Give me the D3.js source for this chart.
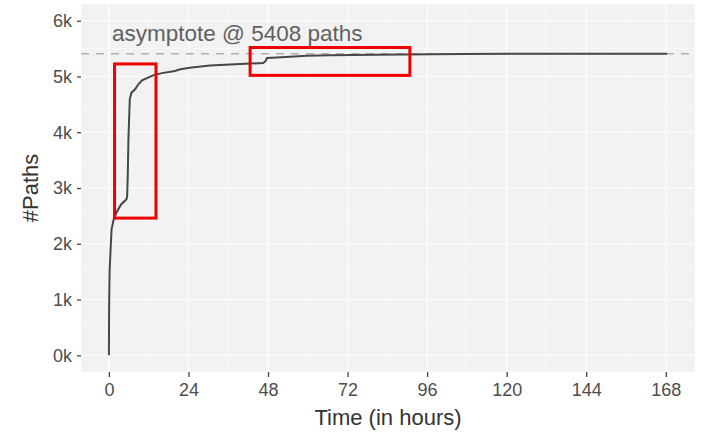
<!DOCTYPE html>
<html>
<head>
<meta charset="utf-8">
<script src="https://cdn.jsdelivr.net/npm/d3@7"></script>
<style>
  body { margin: 0; background: #fff; }
  text { font-family: "Liberation Sans", Arial, Helvetica, sans-serif; }
</style>
</head>
<body>
<div id="chart"></div>
<script>
// cumulative number of paths over time
var hours = [0, 0.05, 0.2, 0.5, 0.8, 1.5, 2.3, 3.6, 5.3, 5.5, 5.7, 5.9, 6.3, 6.8, 7.9, 8.9, 10.0, 13.3, 16, 19.9, 21.5, 25, 30.5, 39.6, 46.5, 47.2, 47.7, 52, 59.7, 66.7, 80, 107, 140, 168.4];
var paths = [0, 800, 1500, 1900, 2260, 2450, 2560, 2700, 2800, 2850, 3250, 3900, 4590, 4710, 4770, 4860, 4930, 5020, 5060, 5100, 5130, 5160, 5195, 5225, 5240, 5270, 5330, 5345, 5370, 5380, 5390, 5405, 5407, 5408];

var asymptote = 5408;
var xTicks = [0, 24, 48, 72, 96, 120, 144, 168];
var yTicks = [0, 1000, 2000, 3000, 4000, 5000, 6000];
var yTickLabels = ["0k", "1k", "2k", "3k", "4k", "5k", "6k"];

// highlighted regions (hours / paths)
var boxHours = [[1.7, 14.2], [42.6, 90.8]];
var boxPaths = [[2460, 5225], [5020, 5520]];

var svgWidth = 703;
var svgHeight = 434;

// panel box
var panel = { left: 81, right: 695, top: 4, bottom: 372 };

var svg = d3.select("#chart")
    .append("svg")
    .attr("width", svgWidth)
    .attr("height", svgHeight);

// ggplot style 5% expansion
var xMax = d3.max(hours);
var xScale = d3.scaleLinear()
    .domain([-0.05 * xMax, xMax * 1.05])
    .range([panel.left, panel.right]);

var yScale = d3.scaleLinear()
    .domain([-300, 6300])
    .range([panel.bottom, panel.top]);

// panel background
svg.append("rect")
    .attr("x", panel.left)
    .attr("y", panel.top)
    .attr("width", panel.right - panel.left)
    .attr("height", panel.bottom - panel.top)
    .attr("fill", "#f2f2f2");

var grid = svg.append("g");

// minor grid
var xMinor = xTicks.slice(0, -1).map(d => d + 12);
var yMinor = yTicks.slice(0, -1).map(d => d + 500);

grid.selectAll(".xminor").data(xMinor).enter().append("line")
    .attr("x1", d => xScale(d)).attr("x2", d => xScale(d))
    .attr("y1", panel.top).attr("y2", panel.bottom)
    .attr("stroke", "#fafafa").attr("stroke-width", 0.6);

grid.selectAll(".yminor").data(yMinor).enter().append("line")
    .attr("x1", panel.left).attr("x2", panel.right)
    .attr("y1", d => yScale(d)).attr("y2", d => yScale(d))
    .attr("stroke", "#fafafa").attr("stroke-width", 0.6);

// major grid
grid.selectAll(".xmajor").data(xTicks).enter().append("line")
    .attr("x1", d => xScale(d)).attr("x2", d => xScale(d))
    .attr("y1", panel.top).attr("y2", panel.bottom)
    .attr("stroke", "#fff").attr("stroke-width", 1.2);

grid.selectAll(".ymajor").data(yTicks).enter().append("line")
    .attr("x1", panel.left).attr("x2", panel.right)
    .attr("y1", d => yScale(d)).attr("y2", d => yScale(d))
    .attr("stroke", "#fff").attr("stroke-width", 1.2);

// asymptote
svg.append("line")
    .attr("x1", panel.left).attr("x2", panel.right)
    .attr("y1", yScale(asymptote)).attr("y2", yScale(asymptote))
    .attr("stroke", "#b0b0b0")
    .attr("stroke-width", 1.6)
    .attr("stroke-dasharray", "8,7");

svg.append("text")
    .attr("x", 112)
    .attr("y", 41)
    .attr("font-size", "22.5px")
    .attr("fill", "#606060")
    .text("asymptote @ " + asymptote + " paths");

// the curve
var line = d3.line()
    .x((d, i) => xScale(hours[i]))
    .y(d => yScale(d));

svg.append("path")
    .datum(paths)
    .attr("d", line)
    .attr("fill", "none")
    .attr("stroke", "#474747")
    .attr("stroke-width", 2);

// red highlight boxes
svg.selectAll(".box")
    .data(boxHours)
    .enter()
    .append("rect")
    .attr("x", d => xScale(d[0]))
    .attr("width", d => xScale(d[1]) - xScale(d[0]))
    .attr("y", (d, i) => yScale(boxPaths[i][1]))
    .attr("height", (d, i) => yScale(boxPaths[i][0]) - yScale(boxPaths[i][1]))
    .attr("fill", "none")
    .attr("stroke", "#ee0000")
    .attr("stroke-width", 3);

// axes
var xAxis = d3.axisBottom(xScale)
    .tickValues(xTicks)
    .tickSize(5)
    .tickPadding(6);

var yAxis = d3.axisLeft(yScale)
    .tickValues(yTicks)
    .tickFormat((d, i) => yTickLabels[i])
    .tickSize(4)
    .tickPadding(5);

var gx = svg.append("g")
    .attr("transform", `translate(0, ${panel.bottom})`)
    .call(xAxis);

var gy = svg.append("g")
    .attr("transform", `translate(${panel.left}, 0)`)
    .call(yAxis);

[gx, gy].forEach(function(g) {
    g.select(".domain").remove();
    g.selectAll(".tick line").attr("stroke", "#444").attr("stroke-width", 1.3);
    g.selectAll(".tick text")
        .attr("fill", "#4d4d4d")
        .style("font-size", "18px")
        .style("font-family", "'Liberation Sans', Arial, sans-serif");
});

// axis titles
svg.append("text")
    .attr("x", (panel.left + panel.right) / 2)
    .attr("y", 425)
    .attr("text-anchor", "middle")
    .attr("font-size", "22px")
    .attr("fill", "#333")
    .text("Time (in hours)");

svg.append("text")
    .attr("transform", `translate(38, ${(panel.top + panel.bottom) / 2}) rotate(-90)`)
    .attr("text-anchor", "middle")
    .attr("font-size", "22px")
    .attr("fill", "#333")
    .text("#Paths");
</script>
</body>
</html>
